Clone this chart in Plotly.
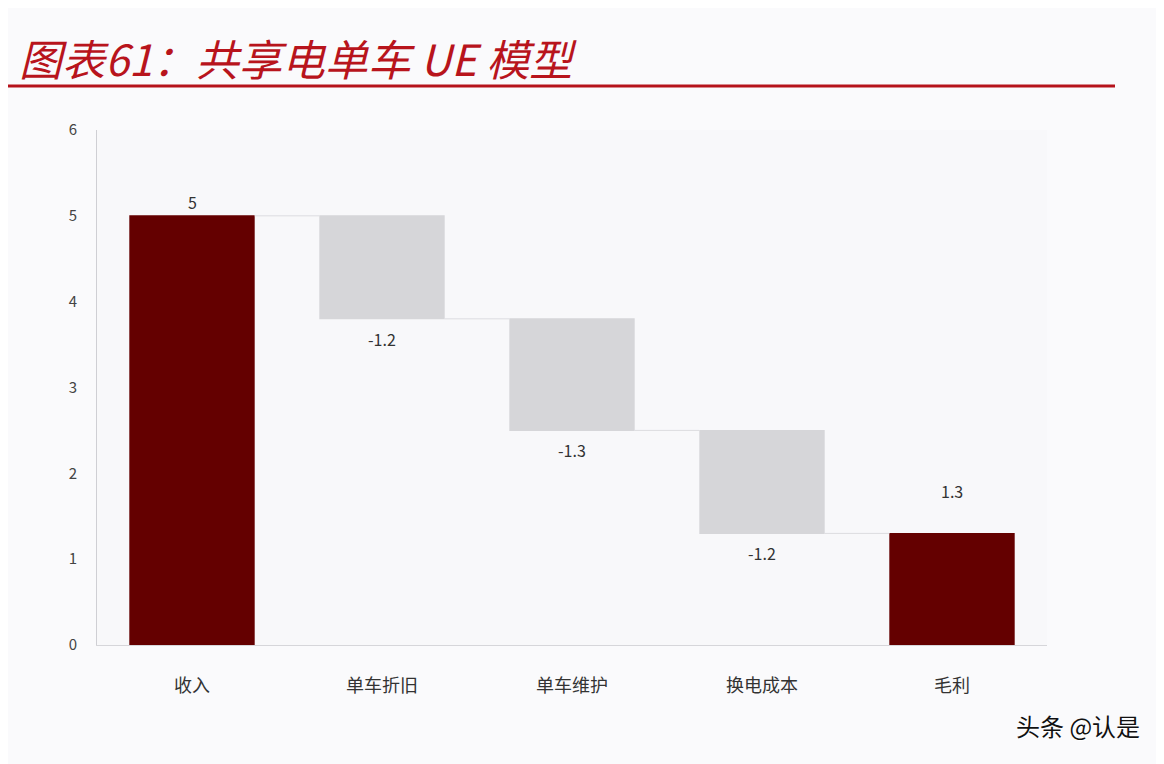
import plotly.graph_objects as go

categories = ["收入", "单车折旧", "单车维护", "换电成本", "毛利"]
values = [5, -1.2, -1.3, -1.2, 1.3]
measures = ["absolute", "relative", "relative", "relative", "total"]
labels = ["5", "-1.2", "-1.3", "-1.2", "1.3"]
y_ticks = [0, 1, 2, 3, 4, 5, 6]

DARK_RED = "#640000"
GRAY = "#d6d6d9"
FONT = "Noto Sans CJK SC"

# plot area in screen pixels (page has an 8px body margin)
PX_L, PX_R, PX_T, PX_B = 97, 1047, 130, 645
PW, PH = PX_R - PX_L, PX_B - PX_T


def px(x):
    return (x - PX_L) / PW


def py(y):
    return (PX_B - y) / PH


fig = go.Figure()
fig.add_trace(go.Waterfall(
    x=categories,
    y=values,
    measure=measures,
    increasing=dict(marker=dict(color=DARK_RED)),
    decreasing=dict(marker=dict(color=GRAY)),
    totals=dict(marker=dict(color=DARK_RED)),
    connector=dict(mode="between", line=dict(color="#dcdce0", width=1)),
    textposition="none",
    showlegend=False,
    hoverinfo="skip",
))

# value labels placed from the data
running = 0
for cat, v, m, lab in zip(categories, values, measures, labels):
    if m == "absolute":
        running = v
        y, shift = v, 14
    elif m == "relative":
        prev = running
        running += v
        y, shift = min(prev, running), -20
    else:
        y, shift = running, 42
    fig.add_annotation(
        x=cat, y=y, xref="x", yref="y", text=lab, showarrow=False,
        yshift=shift, font=dict(family=FONT, size=16, color="#333333"),
    )

fig.add_annotation(
    x=px(17), y=py(57), xref="paper", yref="paper",
    xanchor="left", yanchor="middle",
    text="<i>图表61：共享电单车 UE 模型</i>", showarrow=False,
    font=dict(family=FONT, size=43, color="#b8141c"),
)

fig.add_annotation(
    x=px(1142), y=py(725), xref="paper", yref="paper",
    xanchor="right", yanchor="middle", text="头条 @认是", showarrow=False,
    font=dict(family=FONT, size=24, color="#111111", shadow="1px 1px 1px #ffffff"),
)

fig.add_shape(
    type="line", xref="paper", yref="paper",
    x0=px(8), x1=px(1115), y0=py(86), y1=py(86),
    line=dict(color="#b5121b", width=3),
)

fig.update_layout(
    width=1156, height=756,
    margin=dict(l=PX_L - 8, r=1156 + 8 - PX_R, t=PX_T - 8, b=756 + 8 - PX_B),
    paper_bgcolor="#fafafc",
    plot_bgcolor="#f8f8fa",
    waterfallgap=0.34,
    font=dict(family=FONT),
)
fig.update_yaxes(
    range=[0, 6], tickvals=y_ticks, showgrid=False, zeroline=False,
    showline=True, linecolor="#cfcfd4", linewidth=1,
    tickfont=dict(family=FONT, size=15, color="#444444"),
    ticklabelstandoff=16,
)
fig.update_xaxes(
    showgrid=False, showline=True, linecolor="#d6d6da", linewidth=1,
    tickfont=dict(family=FONT, size=18, color="#333333"),
    ticklabelstandoff=24,
)

fig.write_html("out.html")
